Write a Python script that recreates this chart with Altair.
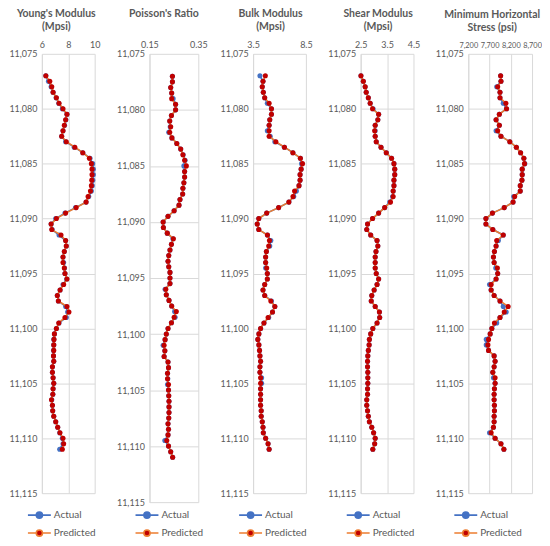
import altair as alt
import pandas as pd

DEPTH = [
    11077.0, 11077.5, 11078.0, 11078.5, 11079.0, 11079.5, 11080.0, 11080.5, 11081.0, 11081.5,
    11082.0, 11082.5, 11083.0, 11083.5, 11084.0, 11084.5, 11085.0, 11085.5, 11086.0, 11086.5,
    11087.0, 11087.5, 11088.0, 11088.5, 11089.0, 11089.5, 11090.0, 11090.5, 11091.0, 11091.5,
    11092.0, 11092.5, 11093.0, 11093.5, 11094.0, 11094.5, 11095.0, 11095.5, 11096.0, 11096.5,
    11097.0, 11097.5, 11098.0, 11098.5, 11099.0, 11099.5, 11100.0, 11100.5, 11101.0, 11101.5,
    11102.0, 11102.5, 11103.0, 11103.5, 11104.0, 11104.5, 11105.0, 11105.5, 11106.0, 11106.5,
    11107.0, 11107.5, 11108.0, 11108.5, 11109.0, 11109.5, 11110.0, 11110.5, 11111.0,
]

YM_PRED = [
    6.30, 6.60, 6.75, 6.85, 7.10, 7.30, 7.60, 7.90, 7.80, 7.70,
    7.60, 7.50, 7.85, 8.50, 9.10, 9.60, 9.75, 9.80, 9.80, 9.78,
    9.75, 9.68, 9.50, 9.35, 8.60, 7.80, 7.10, 6.70, 6.75, 7.45,
    7.80, 7.85, 7.70, 7.60, 7.60, 7.70, 7.75, 7.90, 7.65, 7.38,
    7.17, 7.25, 7.90, 8.05, 7.75, 7.28, 7.10, 6.95, 6.92, 6.90,
    6.90, 6.88, 6.90, 6.80, 6.80, 6.85, 6.90, 6.85, 6.83, 6.73,
    6.80, 6.82, 6.90, 7.05, 7.20, 7.37, 7.60, 7.65, 7.55,
]
YM_ACT = [
    6.30, 6.50, 6.70, 6.85, 7.08, 7.28, 7.55, 7.90, 7.82, 7.72,
    7.60, 7.50, 7.80, 8.45, 9.10, 9.65, 9.85, 9.90, 9.90, 9.86,
    9.82, 9.75, 9.55, 9.35, 8.55, 7.75, 7.05, 6.70, 6.78, 7.30,
    7.80, 7.85, 7.70, 7.60, 7.65, 7.72, 7.75, 7.88, 7.60, 7.38,
    7.17, 7.25, 7.80, 7.95, 7.85, 7.30, 7.10, 6.95, 6.90, 6.90,
    6.88, 6.88, 6.90, 6.80, 6.80, 6.85, 6.90, 6.85, 6.83, 6.75,
    6.80, 6.82, 6.90, 7.05, 7.20, 7.35, 7.55, 7.60, 7.35,
]

PR_PRED = [
    0.244, 0.244, 0.237, 0.241, 0.241, 0.257, 0.257, 0.240, 0.233, 0.237,
    0.233, 0.242, 0.262, 0.278, 0.287, 0.294, 0.301, 0.294, 0.294, 0.291,
    0.287, 0.286, 0.275, 0.271, 0.251, 0.226, 0.206, 0.207, 0.223, 0.248,
    0.240, 0.234, 0.229, 0.226, 0.229, 0.234, 0.234, 0.234, 0.217, 0.219,
    0.230, 0.241, 0.260, 0.251, 0.240, 0.226, 0.219, 0.214, 0.210, 0.213,
    0.210, 0.226, 0.228, 0.224, 0.224, 0.228, 0.228, 0.229, 0.230, 0.230,
    0.230, 0.229, 0.226, 0.228, 0.226, 0.221, 0.228, 0.237, 0.245,
]
PR_ACT = [
    0.244, 0.244, 0.237, 0.241, 0.247, 0.257, 0.257, 0.240, 0.233, 0.235,
    0.229, 0.242, 0.262, 0.278, 0.288, 0.296, 0.291, 0.294, 0.294, 0.291,
    0.287, 0.286, 0.275, 0.271, 0.251, 0.226, 0.206, 0.207, 0.223, 0.246,
    0.240, 0.234, 0.229, 0.226, 0.229, 0.234, 0.234, 0.234, 0.214, 0.219,
    0.230, 0.241, 0.253, 0.255, 0.240, 0.226, 0.219, 0.214, 0.206, 0.213,
    0.210, 0.226, 0.228, 0.224, 0.225, 0.224, 0.228, 0.229, 0.230, 0.230,
    0.230, 0.229, 0.226, 0.228, 0.226, 0.213, 0.228, 0.237, 0.245,
]

BM_PRED = [
    4.66, 4.44, 4.37, 4.47, 4.60, 5.02, 5.24, 5.24, 5.08, 5.02,
    5.02, 5.02, 5.66, 6.47, 7.27, 7.98, 8.18, 8.05, 7.95, 7.95,
    7.85, 7.43, 7.28, 6.89, 5.92, 4.79, 4.04, 3.89, 4.04, 4.86,
    5.05, 4.98, 4.76, 4.69, 4.69, 4.79, 4.85, 4.85, 4.60, 4.44,
    4.60, 5.18, 5.56, 5.34, 4.92, 4.53, 4.21, 4.05, 3.95, 4.05,
    4.11, 4.15, 4.21, 4.15, 4.15, 4.21, 4.21, 4.21, 4.21, 4.21,
    4.21, 4.27, 4.27, 4.37, 4.44, 4.47, 4.69, 4.92, 5.02,
]
BM_ACT = [
    4.15, 4.44, 4.37, 4.47, 4.60, 4.85, 5.24, 5.24, 5.08, 5.02,
    4.85, 5.12, 5.56, 6.47, 7.27, 7.98, 8.09, 8.05, 7.95, 7.95,
    7.85, 7.60, 7.35, 6.89, 5.92, 4.79, 4.04, 3.89, 4.04, 4.86,
    5.18, 5.08, 4.76, 4.69, 4.69, 4.69, 4.85, 4.85, 4.60, 4.44,
    4.60, 5.24, 5.56, 5.34, 4.98, 4.53, 4.21, 4.05, 3.95, 4.05,
    4.11, 4.15, 4.21, 4.15, 4.15, 4.31, 4.31, 4.21, 4.21, 4.21,
    4.21, 4.27, 4.27, 4.37, 4.44, 4.47, 4.69, 4.92, 5.02,
]

SM_PRED = [
    2.51, 2.60, 2.67, 2.71, 2.79, 2.86, 2.95, 3.18, 3.15, 3.05,
    3.03, 3.05, 3.09, 3.27, 3.47, 3.67, 3.76, 3.79, 3.79, 3.76,
    3.76, 3.73, 3.73, 3.63, 3.41, 3.18, 2.95, 2.76, 2.73, 2.88,
    3.12, 3.15, 3.08, 3.05, 3.05, 3.05, 3.09, 3.18, 3.12, 3.01,
    2.92, 2.90, 3.05, 3.21, 3.22, 3.12, 2.96, 2.88, 2.83, 2.82,
    2.79, 2.77, 2.76, 2.76, 2.77, 2.77, 2.77, 2.76, 2.76, 2.73,
    2.73, 2.76, 2.79, 2.83, 2.92, 2.99, 3.05, 3.03, 2.96,
]
SM_ACT = [
    2.51, 2.60, 2.67, 2.71, 2.79, 2.86, 2.97, 3.18, 3.15, 3.05,
    3.05, 3.05, 3.09, 3.27, 3.47, 3.67, 3.76, 3.79, 3.79, 3.76,
    3.76, 3.73, 3.71, 3.60, 3.41, 3.18, 2.95, 2.76, 2.73, 2.88,
    3.12, 3.15, 3.08, 3.05, 3.05, 3.05, 3.09, 3.18, 3.12, 3.01,
    2.92, 2.90, 3.05, 3.21, 3.22, 3.12, 2.96, 2.88, 2.83, 2.82,
    2.79, 2.77, 2.76, 2.76, 2.77, 2.77, 2.77, 2.76, 2.76, 2.73,
    2.73, 2.76, 2.79, 2.83, 2.92, 2.99, 3.05, 3.03, 2.96,
]

SH_PRED = [
    7961, 7969, 7892, 7946, 7946, 8085, 8100, 7931, 7854, 7931,
    7892, 7969, 8177, 8331, 8431, 8508, 8523, 8469, 8469, 8462,
    8423, 8423, 8292, 8254, 8046, 7769, 7615, 7615, 7777, 8023,
    7869, 7854, 7815, 7792, 7808, 7885, 7892, 7854, 7738, 7738,
    7808, 7946, 8138, 8046, 7946, 7815, 7754, 7715, 7677, 7661,
    7677, 7808, 7831, 7808, 7777, 7831, 7831, 7815, 7808, 7808,
    7815, 7815, 7808, 7808, 7792, 7738, 7831, 7969, 8038,
]
SH_ACT = [
    7961, 7969, 7869, 7946, 7946, 8023, 8100, 7931, 7854, 7931,
    7854, 7969, 8177, 8331, 8431, 8508, 8530, 8469, 8469, 8462,
    8423, 8423, 8269, 8254, 8046, 7769, 7615, 7615, 7777, 8023,
    7908, 7854, 7815, 7792, 7808, 7846, 7892, 7854, 7700, 7738,
    7808, 7946, 8023, 8092, 7946, 7869, 7754, 7715, 7623, 7623,
    7677, 7808, 7831, 7808, 7777, 7792, 7831, 7815, 7808, 7808,
    7815, 7815, 7808, 7808, 7792, 7700, 7831, 7969, 8038,
]

Y_TICKS = [11075, 11080, 11085, 11090, 11095, 11100, 11105, 11110, 11115]
SERIES = ["Actual", "Predicted"]

FONT = "Lato"
GREY = "#595959"
GRID = "#d9d9d9"
BLUE = "#4472C4"
ORANGE = "#ED7D31"
RED = "#C00000"
LEGEND_PATH = ("M-1,0L-0.27,0M0.27,0L1,0"
               "M-0.27,0A0.27,0.27 0 1,0 0.27,0A0.27,0.27 0 1,0 -0.27,0Z")


def panel(title, act, pred, domain, ticks, fmt, width, height, toff, tdx, xfs=9):
    df = pd.DataFrame({
        "depth": DEPTH + DEPTH,
        "value": act + pred,
        "series": ["Actual"] * len(DEPTH) + ["Predicted"] * len(DEPTH),
    })
    x = alt.X("value:Q",
              scale=alt.Scale(domain=domain, nice=False, zero=False),
              axis=alt.Axis(orient="top", values=ticks, format=fmt, title=None,
                            ticks=False, tickSize=0, domain=False, labelFont=FONT,
                            labelFontSize=xfs, labelColor=GREY, labelPadding=4,
                            gridColor=GRID, labelFlush=False, labelOverlap=False))
    y = alt.Y("depth:Q",
              scale=alt.Scale(domain=[11075, 11115], reverse=True, nice=False, zero=False),
              axis=alt.Axis(values=Y_TICKS, format=",", title=None, ticks=False,
                            tickSize=0, domainColor=GRID, labelFont=FONT,
                            labelFontSize=9, labelColor=GREY, labelPadding=5,
                            gridColor=GRID, labelFlush=False, labelOverlap=False))
    leg = alt.Legend(orient="none", legendX=-15, legendY=456,
                     direction="vertical", title=None, labelFont=FONT,
                     labelFontSize=10, labelColor=GREY, symbolType=LEGEND_PATH,
                     symbolSize=529, symbolStrokeWidth=1.6, clipHeight=14,
                     rowPadding=4, labelOffset=2)
    stroke = alt.Stroke("series:N", scale=alt.Scale(domain=SERIES, range=[BLUE, ORANGE]),
                        legend=leg)
    fill = alt.Fill("series:N", scale=alt.Scale(domain=SERIES, range=[BLUE, RED]),
                    legend=leg)
    base = alt.Chart(df)
    layers = []
    for s in SERIES:
        layers.append(base.mark_line(strokeWidth=1.6).encode(
            x=x, y=y, stroke=stroke, order="depth:Q").transform_filter(
                alt.datum.series == s))
        layers.append(base.mark_circle(size=26, opacity=1, strokeWidth=0).encode(
            x=x, y=y, fill=fill, stroke=stroke).transform_filter(
                alt.datum.series == s))
    return alt.layer(*layers).properties(
        width=width, height=height,
        title=alt.TitleParams(text=title, font=FONT, fontSize=10.5, fontWeight="bold",
                              color=GREY, offset=toff, anchor="middle", frame="group",
                              dx=tdx, lineHeight=13))


p1 = panel(["Young's Modulus", "(Mpsi)"], YM_ACT, YM_PRED, [6, 10], [6, 8, 10], "d",
           53, 441, 8, -12)
p2 = panel(["Poisson's Ratio"], PR_ACT, PR_PRED, [0.15, 0.35], [0.15, 0.35], ".2f",
           49, 450, 21, -10)
p3 = panel(["Bulk Modulus", "(Mpsi)"], BM_ACT, BM_PRED, [3.5, 8.5], [3.5, 8.5], ".1f",
           53, 441, 8, -9)
p4 = panel(["Shear Modulus", "(Mpsi)"], SM_ACT, SM_PRED, [2.5, 4.5], [2.5, 3.5, 4.5], ".1f",
           53, 441, 8, -9)
p5 = panel(["Minimum Horizontal", "Stress (psi)"], SH_ACT, SH_PRED, [7200, 8700],
           [7200, 7700, 8200, 8700], ",.0f", 64, 441, 8, -8, xfs=7.4)

chart = (
    alt.hconcat(p1, p2, p3, p4, p5, spacing=55, bounds="flush")
    .resolve_scale(fill="independent", stroke="independent")
    .resolve_legend(fill="independent", stroke="independent")
    .configure_view(stroke=None)
    .properties(padding={"left": 0, "top": 0, "right": 0, "bottom": 0}, background="white")
)

chart.save("out.html", embed_options={"renderer": "svg", "actions": False})
